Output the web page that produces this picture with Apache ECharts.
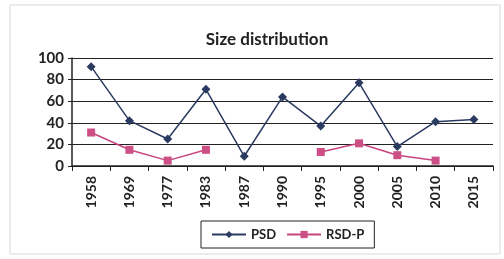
<!DOCTYPE html>
<html>
<head>
<meta charset="utf-8">
<script src="https://cdn.jsdelivr.net/npm/echarts@6/dist/echarts.min.js"></script>
<style>
  html, body { margin: 0; padding: 0; background: #fff; }
  #chart { width: 504px; height: 259px; }
</style>
</head>
<body>
<div id="chart"></div>
<script>
const years = ["1958", "1969", "1977", "1983", "1987", "1990", "1995", "2000", "2005", "2010", "2015"];
const psd = [92, 42, 25, 71, 9, 64, 37, 77, 18, 41, 43];
const rsdP = [31, 15, 5, 15, null, null, 13, 21, 10, 5, null];
const yTicks = [0, 20, 40, 60, 80, 100];

const font = "Lato, 'Open Sans', sans-serif";
const chart = echarts.init(document.getElementById("chart"), null, { renderer: "canvas" });

chart.setOption({
  backgroundColor: "#fff",
  animation: false,
  textStyle: { fontFamily: font },
  graphic: [{
    type: "rect",
    shape: { x: 10, y: 5, width: 490, height: 249 },
    style: { fill: "none", stroke: "#d8d8d8", lineWidth: 1 }
  }],
  title: {
    text: "Size distribution",
    left: 262, top: 26, textAlign: "center",
    textStyle: { fontFamily: font, fontSize: 17, fontWeight: "bold", color: "#222" }
  },
  legend: {
    bottom: 11, left: 201,
    itemGap: 10, itemWidth: 34, itemHeight: 9,
    padding: [7, 10],
    borderColor: "#222", borderWidth: 1,
    textStyle: { fontFamily: font, fontSize: 13, fontWeight: "bold", color: "#222" },
    data: ["PSD", "RSD-P"]
  },
  grid: { left: 72, right: 11, top: 58, bottom: 93 },
  xAxis: {
    type: "category",
    data: years,
    boundaryGap: true,
    axisLine: { lineStyle: { color: "#222", width: 1.5 } },
    axisTick: { show: true, length: 5, lineStyle: { color: "#222" } },
    axisLabel: { rotate: 90, margin: 10, fontFamily: font, fontSize: 14, fontWeight: "bold", color: "#222" }
  },
  yAxis: {
    type: "value",
    min: 0, max: 100, interval: 20,
    axisLine: { show: true, lineStyle: { color: "#222", width: 1.5 } },
    axisTick: { show: true, length: 4, lineStyle: { color: "#222" } },
    splitLine: { lineStyle: { color: "#222", width: 1.2 } },
    axisLabel: {
      margin: 8, fontFamily: font, fontSize: 15, fontWeight: "bold", color: "#222",
      formatter: (v) => (yTicks.includes(v) ? String(v) : "")
    }
  },
  series: [
    {
      name: "PSD", type: "line", data: psd,
      symbol: "diamond", symbolSize: 9,
      lineStyle: { color: "#2b3a60", width: 1.5 },
      itemStyle: { color: "#2b3a60" }
    },
    {
      name: "RSD-P", type: "line", data: rsdP,
      connectNulls: false,
      symbol: "rect", symbolSize: 8,
      lineStyle: { color: "#c8447f", width: 1.5 },
      itemStyle: { color: "#cc4f86" }
    }
  ]
});
</script>
</body>
</html>
